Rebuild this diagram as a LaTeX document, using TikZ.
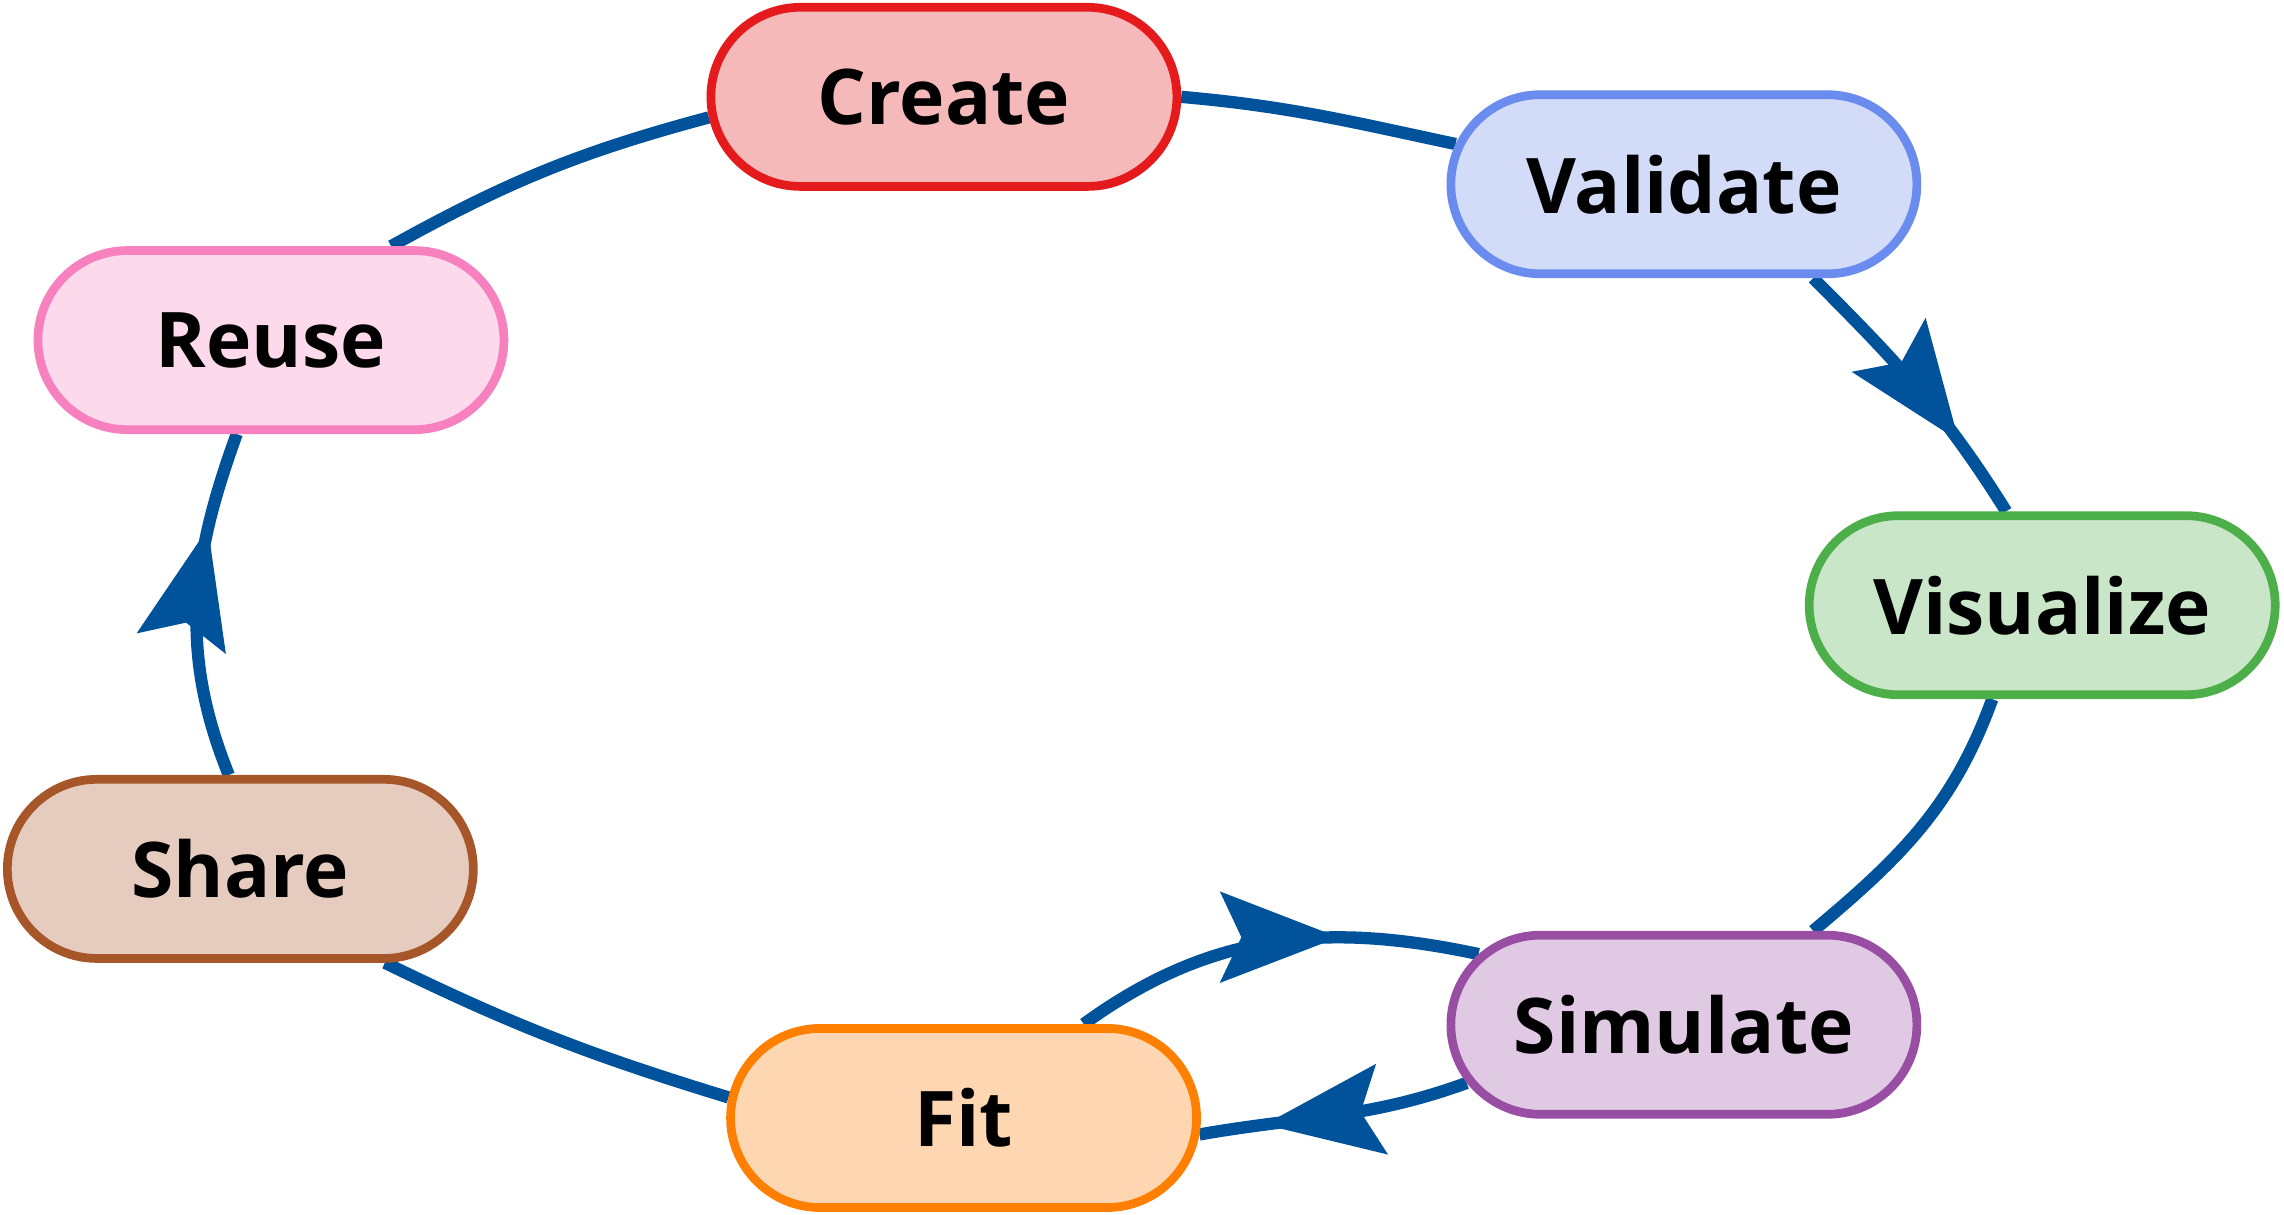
\documentclass[tikz,border=0pt]{standalone}
\usepackage{fontspec}
\setmainfont{Open Sans}
\usepackage{xcolor}
\usetikzlibrary{arrows.meta, decorations.markings, shapes.misc}

\definecolor{flowblue}{HTML}{00539B}
\definecolor{createfill}{HTML}{F5B9B9}
\definecolor{createline}{HTML}{E41A1C}
\definecolor{validatefill}{HTML}{D2DCF8}
\definecolor{validateline}{HTML}{6A8CEE}
\definecolor{visualizefill}{HTML}{C9E7C8}
\definecolor{visualizeline}{HTML}{4DAF4A}
\definecolor{simulatefill}{HTML}{E0C9E3}
\definecolor{simulateline}{HTML}{984EA3}
\definecolor{fitfill}{HTML}{FED7B2}
\definecolor{fitline}{HTML}{FF7F00}
\definecolor{sharefill}{HTML}{E5CCBE}
\definecolor{shareline}{HTML}{A65628}
\definecolor{reusefill}{HTML}{FCD9EB}
\definecolor{reuseline}{HTML}{F781BF}

\pgfdeclarelayer{background}
\pgfsetlayers{background,main}

\begin{document}
\begin{tikzpicture}[x=0.02cm, y=0.02cm,
                        stage/.style={rounded rectangle, line width=3.4pt, minimum width=6.4cm, minimum height=2.46cm, inner sep=0pt, font=\fontsize{30}{36}\selectfont\bfseries},
                        flow/.style={color=flowblue, line width=4.8pt},
                        midarrow/.style={postaction={decorate, decoration={markings, mark=at position #1 with {\arrow{Stealth[length=46pt, width=35pt, inset=8pt]}}}}}]
                        \useasboundingbox (0,0) rectangle (1568,-834);
                        \node[stage, draw=createline, fill=createfill] (create) at (648,-66.5) {Create};
                        \node[stage, draw=validateline, fill=validatefill] (validate) at (1156,-126.5) {Validate};
                        \node[stage, draw=visualizeline, fill=visualizefill] (visualize) at (1402,-415.5) {Visualize};
                        \node[stage, draw=simulateline, fill=simulatefill] (simulate) at (1156,-703.5) {Simulate};
                        \node[stage, draw=fitline, fill=fitfill] (fit) at (661.5,-767.5) {Fit};
                        \node[stage, draw=shareline, fill=sharefill] (share) at (165,-596.5) {Share};
                        \node[stage, draw=reuseline, fill=reusefill] (reuse) at (186,-233.5) {Reuse};
                        \begin{pgfonlayer}{background}
                        \draw[flow] (create.0) to[out=-5, in=168] (validate.170);
                        \draw[flow, midarrow=0.72] (validate.-36) to[out=-45, in=122] (visualize.111);
                        \draw[flow] (visualize.-118) to[out=-110, in=40] (simulate.36);
                        \draw[flow, midarrow=0.76] (simulate.195) to[out=200, in=10] (fit.-4);
                        \draw[flow, midarrow=0.66] (fit.38) to[out=36, in=168] (simulate.161);
                        \draw[flow] (fit.175) to[out=163, in=-26] (share.-33);
                        \draw[flow, midarrow=0.72] (share.97) to[out=112, in=-110] (reuse.-110);
                        \draw[flow] (reuse.38) to[out=29, in=195] (create.185);
                        \end{pgfonlayer}
                    \end{tikzpicture}
\end{document}
